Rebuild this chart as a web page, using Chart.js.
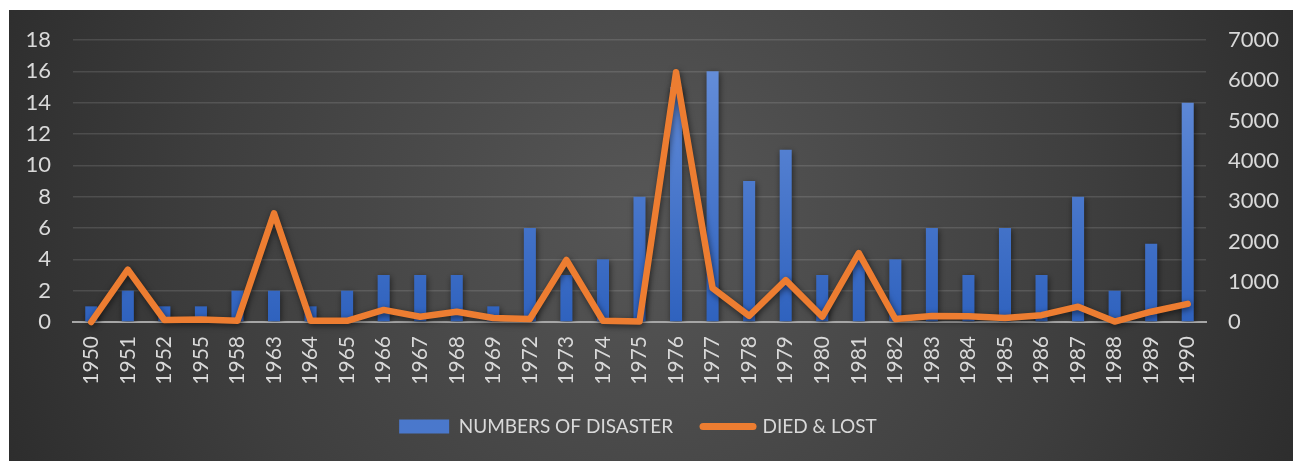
<!DOCTYPE html>
<html>
<head>
<meta charset="utf-8">
<script src="https://cdn.jsdelivr.net/npm/chart.js@4/dist/chart.umd.min.js"></script>
<style>
  html, body { margin: 0; padding: 0; background: #ffffff; width: 1293px; height: 461px; overflow: hidden; }
  #wrap { position: absolute; left: 9px; top: 10px; width: 1284px; height: 451px; }
  canvas { display: block; }
</style>
</head>
<body>
<div id="wrap"><canvas id="chart" width="1284" height="451"></canvas></div>
<script>
// Years with recorded events
const years = ['1950','1951','1952','1955','1958','1963','1964','1965','1966','1967','1968','1969',
  '1972','1973','1974','1975','1976','1977','1978','1979','1980','1981','1982','1983','1984',
  '1985','1986','1987','1988','1989','1990'];

// Number of disasters per year (left axis)
const disasterCounts = [1,2,1,1,2,2,1,2,3,3,3,1,6,3,4,8,15,16,9,11,3,4,4,6,3,6,3,8,2,5,14];

// People died & lost per year (right axis)
const diedLost = [0,1300,50,60,30,2700,30,30,300,130,255,100,75,1540,30,10,6200,840,150,1040,
  130,1710,75,150,140,100,170,380,10,255,450];

const leftTicks = { min: 0, max: 18, step: 2 };
const rightTicks = { min: 0, max: 7000, step: 1000 };

const FONT = 'Lato, "Open Sans", "DejaVu Sans", sans-serif';
const TEXT = '#d9d9d9';

// Dark panel with a soft radial glow in the middle
const panelBackground = {
  id: 'panelBackground',
  beforeDraw(chart) {
    const { ctx, width, height } = chart;
    ctx.save();
    const g = ctx.createRadialGradient(width * 0.5, height * 0.45, 10, width * 0.5, height * 0.45, width * 0.62);
    g.addColorStop(0, '#565656');
    g.addColorStop(0.55, '#3e3e3e');
    g.addColorStop(1, '#262626');
    ctx.fillStyle = g;
    ctx.fillRect(0, 0, width, height);
    ctx.restore();
  }
};

// Soft drop shadow under bars and line
const markShadow = {
  id: 'markShadow',
  beforeDatasetDraw(chart) {
    const ctx = chart.ctx;
    ctx.save();
    ctx.shadowColor = 'rgba(0,0,0,0.55)';
    ctx.shadowBlur = 6;
    ctx.shadowOffsetX = 1;
    ctx.shadowOffsetY = 2;
  },
  afterDatasetDraw(chart) {
    chart.ctx.restore();
  }
};

// Place the legend row at a fixed height below the axis labels
const legendPlacement = {
  id: 'legendPlacement',
  afterLayout(chart) {
    const lg = chart.legend;
    if (!lg) return;
    const h = lg.height;
    lg.top = 377;
    lg.bottom = lg.top + h;
    lg.left -= 13;
    lg.right -= 13;
  }
};

function barGradient(context) {
  const chart = context.chart;
  const area = chart.chartArea;
  if (!area) return '#4472c4';
  const g = chart.ctx.createLinearGradient(0, area.top, 0, area.bottom);
  g.addColorStop(0, '#6a92dc');
  g.addColorStop(1, '#2f62be');
  return g;
}

new Chart(document.getElementById('chart'), {
  type: 'bar',
  data: {
    labels: years,
    datasets: [
      {
        type: 'bar',
        label: 'NUMBERS OF DISASTER',
        data: disasterCounts,
        yAxisID: 'y',
        backgroundColor: barGradient,
        borderWidth: 0,
        barPercentage: 0.66,
        categoryPercentage: 0.5,
        order: 1
      },
      {
        type: 'line',
        label: 'DIED & LOST',
        data: diedLost,
        yAxisID: 'y1',
        borderColor: '#ed7d31',
        backgroundColor: '#ed7d31',
        borderWidth: 6.5,
        borderJoinStyle: 'round',
        borderCapStyle: 'round',
        pointRadius: 0,
        tension: 0,
        clip: false,
        order: 0
      }
    ]
  },
  options: {
    responsive: false,
    animation: false,
    devicePixelRatio: 1,
    layout: { padding: { top: 30, bottom: 0, left: 0, right: 0 } },
    plugins: {
      tooltip: { enabled: false },
      legend: {
        position: 'bottom',
        labels: {
          color: TEXT,
          font: { family: FONT, size: 19 },
          usePointStyle: true,
          pointStyleWidth: 50,
          boxHeight: 14,
          padding: 30,
          generateLabels() {
            return [
              { text: 'NUMBERS OF DISASTER', fillStyle: '#4a78cc', strokeStyle: '#4a78cc', lineWidth: 0,
                pointStyle: 'rect', fontColor: TEXT, datasetIndex: 0 },
              { text: 'DIED & LOST', fillStyle: '#ed7d31', strokeStyle: '#ed7d31', lineWidth: 7,
                lineCap: 'round', pointStyle: 'line', fontColor: TEXT, datasetIndex: 1 }
            ];
          }
        }
      }
    },
    scales: {
      x: {
        grid: { display: false, drawTicks: false },
        border: { display: true, color: '#a6a6a6', width: 2 },
        ticks: {
          color: TEXT,
          font: { family: FONT, size: 21 },
          minRotation: 90,
          maxRotation: 90,
          autoSkip: false,
          padding: 14
        },
        afterFit(scale) { scale.height = 80; }
      },
      y: {
        position: 'left',
        min: leftTicks.min,
        max: leftTicks.max,
        grid: {
          color: 'rgba(255,255,255,0.12)',
          lineWidth: 1.5,
          drawTicks: true,
          tickLength: 22,
          tickColor: 'rgba(0,0,0,0)'
        },
        border: { display: false },
        ticks: {
          stepSize: leftTicks.step,
          color: TEXT,
          font: { family: FONT, size: 22 },
          padding: 0
        },
        afterFit(scale) { scale.width = 64; }
      },
      y1: {
        position: 'right',
        min: rightTicks.min,
        max: rightTicks.max,
        grid: { display: false, drawTicks: true, tickLength: 22 },
        border: { display: false },
        ticks: {
          stepSize: rightTicks.step,
          color: TEXT,
          font: { family: FONT, size: 22 },
          padding: 0,
          callback: (v) => String(v)
        },
        afterFit(scale) { scale.width = 87; }
      }
    }
  },
  plugins: [panelBackground, markShadow, legendPlacement]
});
</script>
</body>
</html>
